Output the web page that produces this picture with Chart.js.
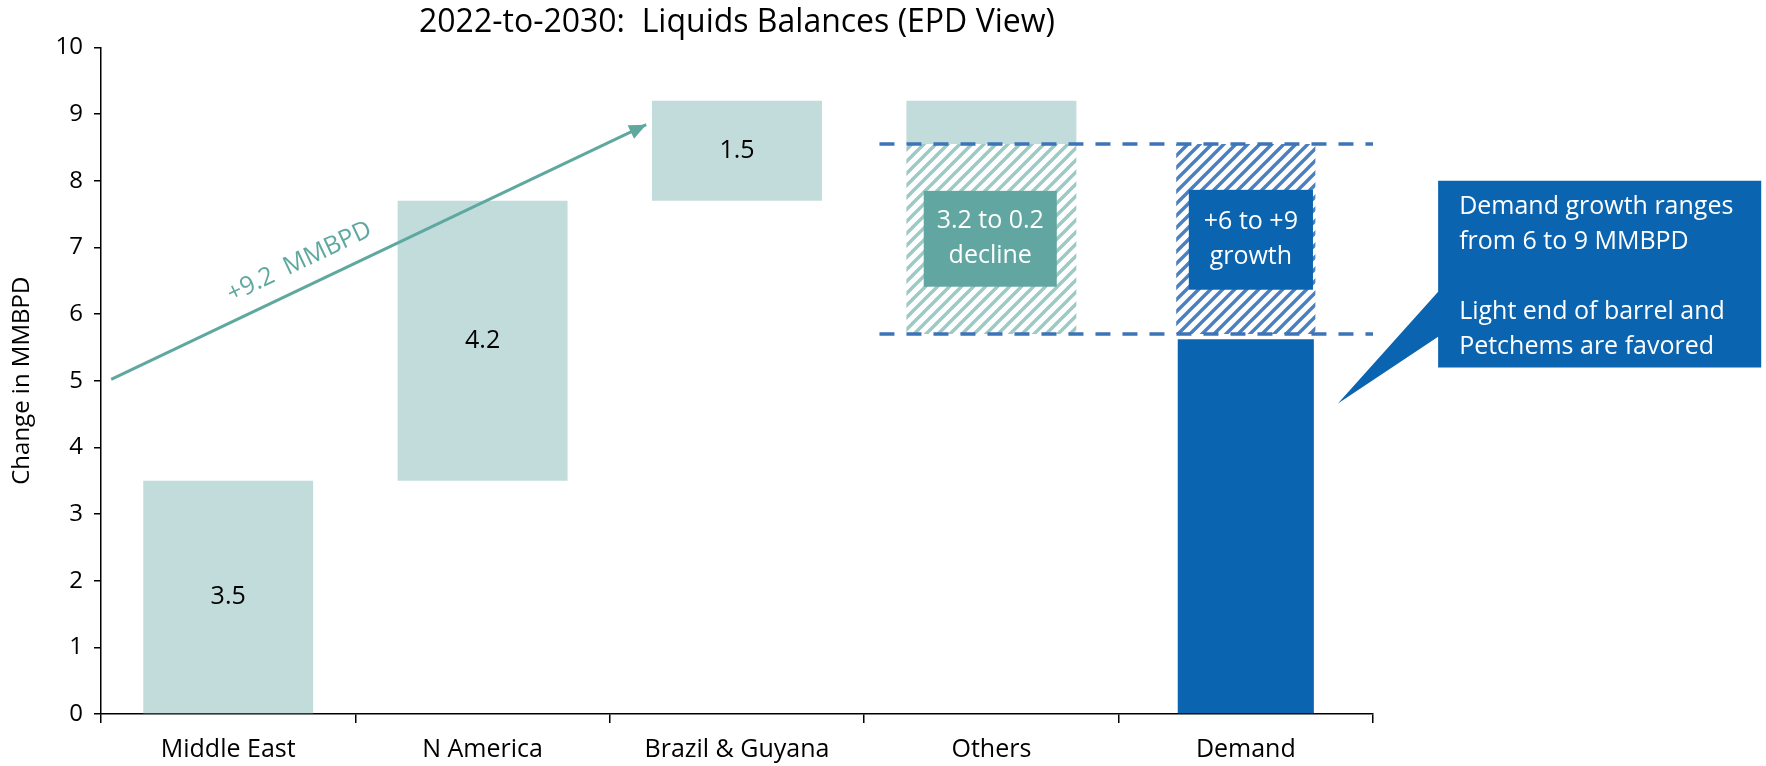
<!DOCTYPE html>
<html>
<head>
<meta charset="utf-8">
<script src="https://cdn.jsdelivr.net/npm/chart.js@4"></script>
<style>
  body { margin: 0; background: #fff; }
  #wrap { width: 1766px; height: 766px; }
</style>
</head>
<body>
<div id="wrap"><canvas id="myChart"></canvas></div>
<script>
'use strict';

// categories and values
const categories = ['Middle East', 'N America', 'Brazil & Guyana', 'Others', 'Demand'];
const supplyLow = [0, 3.5, 7.7, 8.55, null];
const supplyHigh = [3.5, 7.7, 9.2, 9.2, null];
const supplyLabels = ['3.5', '4.2', '1.5', '', ''];
const demandBase = [null, null, null, null, 5.62];
const rangeLow = 5.7;
const rangeHigh = 8.55;
const yTicks = [0, 1, 2, 3, 4, 5, 6, 7, 8, 9, 10];

// arrow (x in category units, y in MMBPD)
const arrowX = [-0.46, 1.643];
const arrowY = [5.02, 8.84];
const arrowText = '+9.2  MMBPD';
const arrowTextPos = [0.28, 6.78];

// dashed range lines
const dashX = [2.56, 4.5];

// label boxes
const othersBoxText = ['3.2 to 0.2', 'decline'];
const demandBoxText = ['+6 to +9', 'growth'];
const calloutText = ['Demand growth ranges', 'from 6 to 9 MMBPD', '', 'Light end of barrel and', 'Petchems are favored'];

const teal = '#c2dcdb';
const blue = '#0b64b0';
const arrowColor = '#5fa8a0';

function hatch(color, size, lw) {
    let c = document.createElement('canvas');
    c.width = size;
    c.height = size;
    let g = c.getContext('2d');
    g.strokeStyle = color;
    g.lineWidth = lw;
    g.lineCap = 'square';
    g.beginPath();
    for (let k = -1; k <= 1; k++) {
        g.moveTo(k * size, size);
        g.lineTo(k * size + size, 0);
    }
    g.stroke();
    return g.createPattern(c, 'repeat');
}

let supply = [];
for (let i = 0; i < categories.length; i++) {
    supply[i] = supplyLow[i] === null ? null : [supplyLow[i], supplyHigh[i]];
}
let demand = demandBase.map(v => v === null ? null : [0, v]);
let othersRange = categories.map((c, i) => i === 3 ? [rangeLow, rangeHigh] : null);
let demandRange = categories.map((c, i) => i === 4 ? [rangeLow, rangeHigh] : null);

function pts(xs, ys) {
    return xs.map((x, i) => ({ x: x, y: ys[i] }));
}

Chart.defaults.font.family = "'Open Sans', sans-serif";
Chart.defaults.color = '#000';

// draws bar value labels, arrow head, rotated text and the boxes
const extras = {
    id: 'extras',
    afterDatasetsDraw(chart) {
        let ctx = chart.ctx;
        let x2 = chart.scales.x2;
        let y = chart.scales.y;

        // bar labels
        let meta = chart.getDatasetMeta(0);
        ctx.save();
        ctx.font = "25px 'Open Sans'";
        ctx.fillStyle = '#000';
        ctx.textAlign = 'center';
        ctx.textBaseline = 'middle';
        meta.data.forEach((bar, i) => {
            if (!supplyLabels[i]) return;
            let p = bar.getProps(['x', 'y', 'base'], true);
            ctx.fillText(supplyLabels[i], p.x, (p.y + p.base) / 2);
        });
        ctx.restore();

        // arrow head
        let am = chart.getDatasetMeta(4);
        let a = am.data[0], b = am.data[1];
        let ang = Math.atan2(b.y - a.y, b.x - a.x);
        ctx.save();
        ctx.translate(b.x, b.y);
        ctx.rotate(ang);
        ctx.fillStyle = arrowColor;
        ctx.beginPath();
        ctx.moveTo(0, 0);
        ctx.lineTo(-17, -7.5);
        ctx.lineTo(-17, 7.5);
        ctx.closePath();
        ctx.fill();
        ctx.restore();

        // text along arrow
        ctx.save();
        ctx.translate(x2.getPixelForValue(arrowTextPos[0]), y.getPixelForValue(arrowTextPos[1]));
        ctx.rotate(ang);
        ctx.font = "25px 'Open Sans'";
        ctx.fillStyle = arrowColor;
        ctx.textAlign = 'center';
        ctx.textBaseline = 'middle';
        ctx.fillText(arrowText, 0, 0);
        ctx.restore();

        // small label boxes
        function box(x0, x1, y0, y1, color, lines) {
            let l = x2.getPixelForValue(x0), r = x2.getPixelForValue(x1);
            let t = y.getPixelForValue(y0), btm = y.getPixelForValue(y1);
            ctx.save();
            ctx.fillStyle = color;
            ctx.fillRect(l, t, r - l, btm - t);
            ctx.fillStyle = '#fff';
            ctx.font = "25px 'Open Sans'";
            ctx.textAlign = 'center';
            ctx.textBaseline = 'middle';
            let cy = (t + btm) / 2;
            ctx.fillText(lines[0], (l + r) / 2, cy - 17.5);
            ctx.fillText(lines[1], (l + r) / 2, cy + 17.5);
            ctx.restore();
        }
        box(2.734, 3.257, 7.848, 6.41, '#62a6a1', othersBoxText);
        box(3.776, 4.264, 7.863, 6.365, blue, demandBoxText);

        // callout
        let cl = x2.getPixelForValue(4.756), cr = x2.getPixelForValue(6.026);
        let ct = y.getPixelForValue(8.0), cb = y.getPixelForValue(5.197);
        ctx.save();
        ctx.fillStyle = blue;
        ctx.beginPath();
        ctx.moveTo(cl, ct);
        ctx.lineTo(cr, ct);
        ctx.lineTo(cr, cb);
        ctx.lineTo(cl, cb);
        ctx.lineTo(cl, y.getPixelForValue(5.661));
        ctx.lineTo(x2.getPixelForValue(4.362), y.getPixelForValue(4.658));
        ctx.lineTo(cl, y.getPixelForValue(6.335));
        ctx.closePath();
        ctx.fill();
        ctx.fillStyle = '#fff';
        ctx.font = "25px 'Open Sans'";
        ctx.textAlign = 'left';
        ctx.textBaseline = 'alphabetic';
        calloutText.forEach((s, i) => {
            ctx.fillText(s, cl + 21, ct + 33 + 35 * i);
        });
        ctx.restore();
    }
};

let data = {
    labels: categories,
    datasets: [
        {
            label: 'Supply',
            data: supply,
            backgroundColor: teal,
            barPercentage: 0.668,
            categoryPercentage: 1,
            grouped: false,
            order: 6
        },
        {
            label: 'Others range',
            data: othersRange,
            backgroundColor: hatch('#9ccac4', 12, 3.4),
            barPercentage: 0.668,
            categoryPercentage: 1,
            grouped: false,
            order: 5
        },
        {
            label: 'Demand',
            data: demand,
            backgroundColor: blue,
            barPercentage: 0.535,
            categoryPercentage: 1,
            grouped: false,
            order: 6
        },
        {
            label: 'Demand range',
            data: demandRange,
            backgroundColor: hatch('#4a7fc0', 12, 3.4),
            barPercentage: 0.547,
            categoryPercentage: 1,
            grouped: false,
            order: 5
        },
        {
            type: 'line',
            label: 'Arrow',
            data: pts(arrowX, arrowY),
            xAxisID: 'x2',
            borderColor: arrowColor,
            borderWidth: 3,
            pointRadius: 0,
            tension: 0,
            order: 1
        },
        {
            type: 'line',
            label: 'High',
            data: pts(dashX, [rangeHigh, rangeHigh]),
            xAxisID: 'x2',
            borderColor: '#3d74b8',
            borderWidth: 3.5,
            borderDash: [15, 12],
            pointRadius: 0,
            order: 2
        },
        {
            type: 'line',
            label: 'Low',
            data: pts(dashX, [rangeLow, rangeLow]),
            xAxisID: 'x2',
            borderColor: '#3d74b8',
            borderWidth: 3.5,
            borderDash: [15, 12],
            pointRadius: 0,
            order: 2
        }
    ]
};

let config = {
    type: 'bar',
    data,
    options: {
        responsive: true,
        maintainAspectRatio: false,
        animation: false,
        layout: { padding: { left: 0, right: 393, top: 0, bottom: 0 } },
        plugins: {
            legend: { display: false },
            tooltip: { enabled: false },
            title: {
                display: true,
                text: '2022-to-2030:  Liquids Balances (EPD View)',
                fullSize: false,
                color: '#000',
                font: { size: 32, weight: 'normal' },
                padding: { top: 4, bottom: 5 }
            }
        },
        scales: {
            x: {
                offset: true,
                grid: { drawOnChartArea: false, offset: true, tickLength: 9, color: '#000', lineWidth: 1.5 },
                border: { color: '#000', width: 1.5 },
                ticks: { font: { size: 25 }, color: '#000', padding: 12 },
                afterFit: s => { s.height = 52; }
            },
            x2: {
                type: 'linear',
                display: false,
                offset: false,
                grid: { offset: false },
                min: -0.5,
                max: 4.5
            },
            y: {
                min: 0,
                max: 10,
                afterBuildTicks: s => { s.ticks = yTicks.map(v => ({ value: v })); },
                grid: { drawOnChartArea: false, tickLength: 7, color: '#000', lineWidth: 1.5 },
                border: { color: '#000', width: 1.5 },
                ticks: { font: { size: 24 }, color: '#000', padding: 11 },
                title: {
                    display: true,
                    text: 'Change in MMBPD',
                    color: '#000',
                    font: { size: 24 },
                    padding: { top: 8, bottom: 0 }
                },
                afterFit: s => { s.width = 101; }
            }
        }
    },
    plugins: [extras]
};

let myChart = new Chart(document.getElementById('myChart'), config);
</script>
</body>
</html>
